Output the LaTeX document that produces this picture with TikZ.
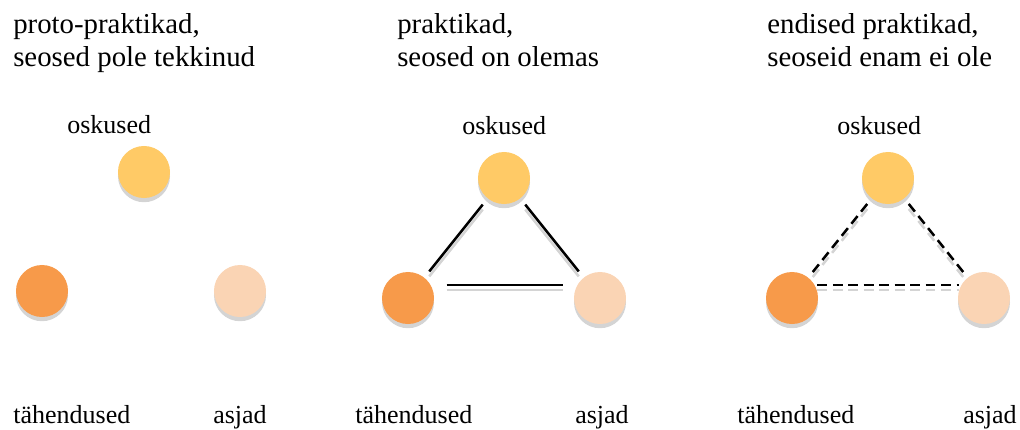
\documentclass[tikz,border=0pt]{standalone}
\usepackage{fontspec}
\setmainfont{Liberation Serif}
\usetikzlibrary{shadows}
\definecolor{oskcolor}{HTML}{FFCA66}
\definecolor{tahcolor}{HTML}{F79A4A}
\definecolor{asjcolor}{HTML}{FAD4B4}
\definecolor{shadowgray}{HTML}{D4D4D4}
\begin{document}
\begin{tikzpicture}[x=0.025cm,y=-0.025cm]
  \tikzset{practice circle/.style={circle,fill=#1,minimum size=1.3cm,inner sep=0,outer sep=0,
      drop shadow={shadow xshift=0pt,shadow yshift=-3pt,fill=shadowgray,opacity=1}}}
  \tikzset{title text/.style={anchor=base west,inner sep=0,align=left,font=\fontsize{20.5}{23.4}\selectfont}}
  \tikzset{label text/.style={anchor=base west,inner sep=0,font=\fontsize{18.5}{22}\selectfont}}
  \tikzset{link/.style={line width=1.8pt}}
  \tikzset{link shadow/.style={line width=1.8pt,draw=shadowgray,transform canvas={yshift=-3.5pt}}}
  \useasboundingbox (0,0) rectangle (1020,429);

  % proto-praktikad
  \node [title text] (title1) at (13,66) {proto-praktikad,\\seosed pole tekkinud};
  \node [label text] (oskl1) at (67,133) {oskused};
  \node [practice circle = oskcolor] (osk1) at (144,172) {};
  \node [practice circle = tahcolor] (tah1) at (42,291) {};
  \node [practice circle = asjcolor] (asj1) at (240,291) {};
  \node [label text] (tahl1) at (13,423) {tähendused};
  \node [label text] (asjl1) at (213,423) {asjad};

  % praktikad
  \node [title text] (title2) at (397,66) {praktikad,\\seosed on olemas};
  \node [label text] (oskl2) at (462,134) {oskused};
  \node [practice circle = oskcolor] (osk2) at (504,178) {};
  \node [practice circle = tahcolor] (tah2) at (408,298) {};
  \node [practice circle = asjcolor] (asj2) at (600,298) {};
  \node [label text] (tahl2) at (355,423) {tähendused};
  \node [label text] (asjl2) at (575,423) {asjad};
  \draw [link shadow,shorten <=0.2cm,shorten >=0.2cm] (tah2) -- (osk2);
  \draw [link shadow,shorten <=0.2cm,shorten >=0.2cm] (osk2) -- (asj2);
  \draw [link shadow,shorten <=0.4cm,shorten >=0.36cm] (tah2.30) -- (asj2.150);
  \draw [link,shorten <=0.2cm,shorten >=0.2cm] (tah2) -- (osk2);
  \draw [link,shorten <=0.2cm,shorten >=0.2cm] (osk2) -- (asj2);
  \draw [link,shorten <=0.4cm,shorten >=0.36cm] (tah2.30) -- (asj2.150);

  % endised praktikad
  \node [title text] (title3) at (767,66) {endised praktikad,\\seoseid enam ei ole};
  \node [label text] (oskl3) at (837,134) {oskused};
  \node [practice circle = oskcolor] (osk3) at (888,178) {};
  \node [practice circle = tahcolor] (tah3) at (792,298) {};
  \node [practice circle = asjcolor] (asj3) at (984,298) {};
  \node [label text] (tahl3) at (737,423) {tähendused};
  \node [label text] (asjl3) at (963,423) {asjad};
  \draw [link shadow,dash pattern=on 7pt off 4pt,shorten <=0.18cm,shorten >=0.18cm] (tah3) -- (osk3);
  \draw [link shadow,dash pattern=on 7pt off 4pt,shorten <=0.18cm,shorten >=0.18cm] (osk3) -- (asj3);
  \draw [link shadow,dash pattern=on 7pt off 4pt,shorten <=0.07cm,shorten >=0.07cm] (tah3.30) -- (asj3.150);
  \draw [link,dash pattern=on 7pt off 4pt,shorten <=0.18cm,shorten >=0.18cm] (tah3) -- (osk3);
  \draw [link,dash pattern=on 7pt off 4pt,shorten <=0.18cm,shorten >=0.18cm] (osk3) -- (asj3);
  \draw [link,dash pattern=on 7pt off 4pt,shorten <=0.07cm,shorten >=0.07cm] (tah3.30) -- (asj3.150);
\end{tikzpicture}
\end{document}
